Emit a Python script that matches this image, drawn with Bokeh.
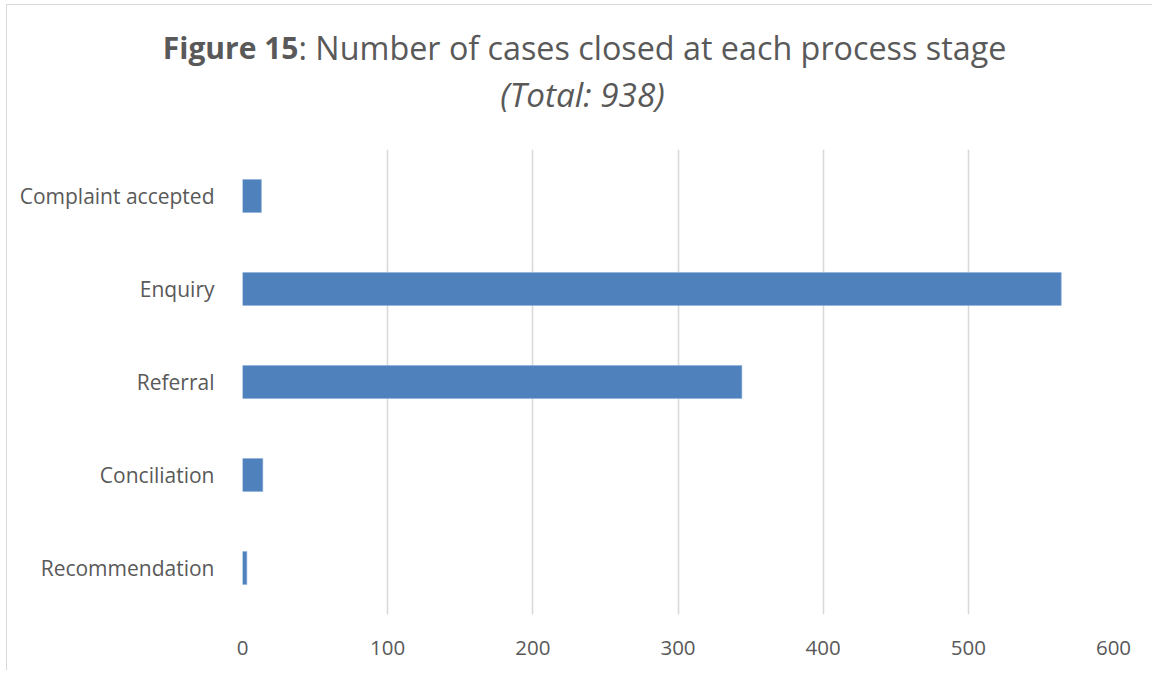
from bokeh.plotting import figure
from bokeh.models import FactorRange, Range1d, FixedTicker, Label, ColumnDataSource
from bokeh.embed import file_html
from bokeh.resources import INLINE

categories = ["Complaint accepted", "Enquiry", "Referral", "Conciliation", "Recommendation"]
values = [13, 564, 344, 14, 3]
x_ticks = [0, 100, 200, 300, 400, 500, 600]
title_bold = "Figure 15"
title_rest = ": Number of cases closed at each process stage"
subtitle = "(Total: 938)"

FONT = "Open Sans"
TXT = "#595959"
GRID = "#d9d9d9"
BAR = "#4f81bd"

W, H = 1146, 666
p = figure(width=W, height=H, output_backend="svg", toolbar_location=None,
           y_range=FactorRange(factors=list(reversed(categories)), range_padding=0),
           x_range=Range1d(0, 600),
           min_border_left=235, min_border_right=40, min_border_top=144, min_border_bottom=57)
p.styles = {"border-left": "1px solid #d9d9d9", "border-top": "1px solid #d9d9d9",
            "margin-left": "6px", "margin-top": "4px"}

src = ColumnDataSource(dict(cat=categories, val=values))
p.hbar(y="cat", right="val", left=0, height=0.355, source=src,
       fill_color=BAR, line_color="#8eb0da", line_width=0.6)

p.outline_line_color = None
p.ygrid.grid_line_color = None
p.xgrid.grid_line_color = GRID
p.xgrid.grid_line_width = 1.6
p.xaxis.ticker = FixedTicker(ticks=x_ticks)

for ax in (p.xaxis[0], p.yaxis[0]):
    ax.axis_line_color = None
    ax.major_tick_line_color = None
    ax.minor_tick_line_color = None
    ax.major_label_text_font = FONT
    ax.major_label_text_color = TXT
p.xaxis.major_label_text_font_size = "20.5px"
p.yaxis.major_label_text_font_size = "21px"
p.xaxis.major_label_standoff = 20
p.yaxis.major_label_standoff = 22

# labels live in stacked panels above the frame (x from frame left, y up from each panel's bottom)
t_sub = Label(x=340, y=55.7, x_units="screen", y_units="screen", text=subtitle,
              text_font=FONT, text_font_style="italic", text_font_size="33.3px",
              text_color=TXT, text_align="center", text_baseline="middle")
t_bold = Label(x=56, y=56, x_units="screen", y_units="screen", text=title_bold,
               text_font=FONT, text_font_style="bold", text_font_size="30px",
               text_color=TXT, text_align="right", text_baseline="middle")
t_rest = Label(x=56, y=15.1, x_units="screen", y_units="screen", text=title_rest,
               text_font=FONT, text_font_size="32.3px",
               text_color=TXT, text_align="left", text_baseline="middle")
for t in (t_sub, t_bold, t_rest):
    p.add_layout(t, "above")

open("out.html", "w").write(file_html(p, INLINE))
